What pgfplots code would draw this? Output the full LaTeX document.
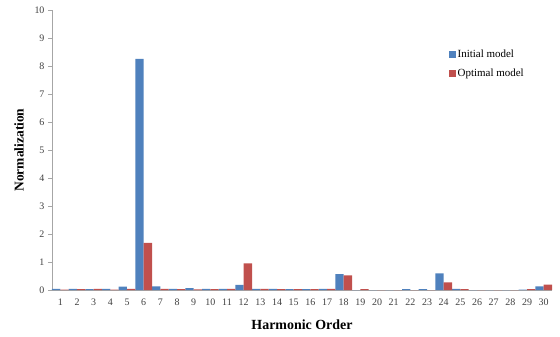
\documentclass[border=0pt]{standalone}
\usepackage{fontspec}
\setmainfont{Liberation Serif}
\usepackage{pgfplots}
\pgfplotsset{compat=1.18}
\definecolor{xblue}{HTML}{4F81BD}
\definecolor{xred}{HTML}{C0504D}
\definecolor{axgray}{HTML}{A6A6A6}
\begin{document}
\begin{tikzpicture}
\begin{axis}[
  scale only axis,
  width=500bp, height=280bp,
  xmin=0.5, xmax=30.5,
  ymin=0, ymax=10,
  ybar, bar width=0.5,
  axis x line*=bottom, axis y line*=left,
  axis line style={axgray, -},
  xtick={1,...,30},
  xtick style={draw=none},
  ytick={0,...,10},
  ytick style={axgray},
  tick align=outside,
  major tick length=4bp,
  ticklabel style={font=\fontsize{10}{12}\selectfont, text=black!75},
  xticklabel style={yshift=-1bp},
  /pgf/number format/assume math mode=true,
  xlabel={\textbf{Harmonic Order}},
  ylabel={\textbf{Normalization}},
  xlabel style={font=\fontsize{14}{16}\selectfont, at={(0.5,0)}, anchor=north, yshift=-26bp},
  ylabel style={font=\fontsize{13.5}{16}\selectfont, yshift=4bp},
  legend style={draw=none, fill=none, at={(0.788,0.872)}, anchor=north west,
    font=\fontsize{11}{13}\selectfont, row sep=6bp},
  legend cell align=left,
  legend image code/.code={\fill[#1] (0cm,-0.11cm) rectangle (0.23cm,0.12cm);},
]
\addplot[fill=xblue, draw=none, bar shift=-0.25] coordinates {
(1,0.04) (2,0.04) (3,0.03) (4,0.04) (5,0.12) (6,8.25) (7,0.13) (8,0.04) (9,0.07) (10,0.04)
(11,0.04) (12,0.18) (13,0.04) (14,0.04) (15,0.03) (16,0.03) (17,0.04) (18,0.57) (19,0.0) (20,0.0)
(21,0.0) (22,0.03) (23,0.03) (24,0.59) (25,0.04) (26,0.0) (27,0.0) (28,0.0) (29,0.01) (30,0.13)};
\addplot[fill=xred, draw=none, bar shift=0.25] coordinates {
(1,0.01) (2,0.03) (3,0.04) (4,0.01) (5,0.04) (6,1.68) (7,0.04) (8,0.03) (9,0.02) (10,0.03)
(11,0.04) (12,0.95) (13,0.04) (14,0.03) (15,0.03) (16,0.03) (17,0.04) (18,0.52) (19,0.03) (20,0.0)
(21,0.0) (22,0.0) (23,0.0) (24,0.27) (25,0.03) (26,0.0) (27,0.0) (28,0.0) (29,0.03) (30,0.19)};
\legend{Initial model, Optimal model}
\end{axis}
\path (current axis.south west) ++(-52bp,-47bp) coordinate (bbsw);
\useasboundingbox (bbsw) rectangle ++(560bp,337bp);
\end{tikzpicture}
\end{document}
